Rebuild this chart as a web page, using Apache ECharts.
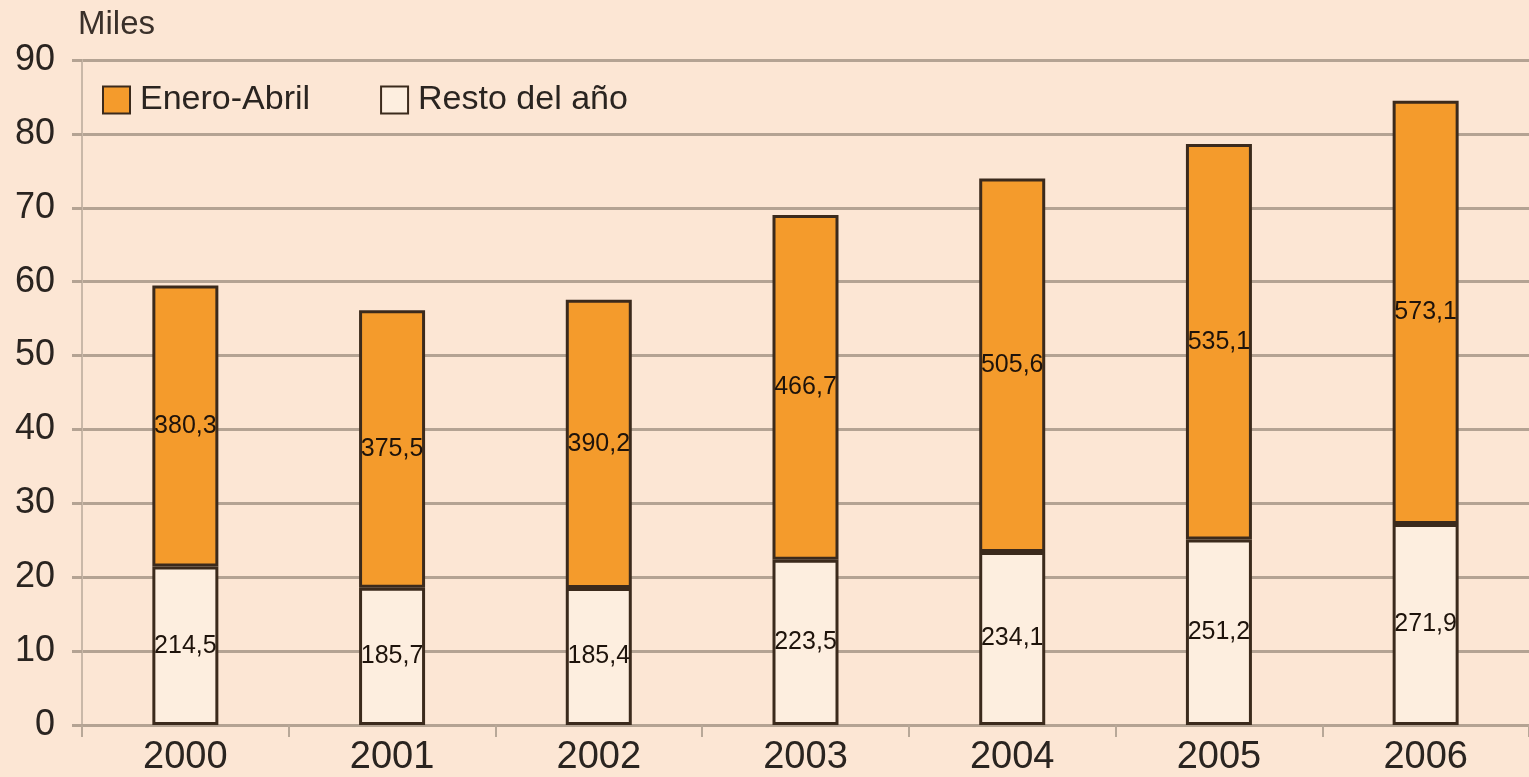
<!DOCTYPE html>
<html>
<head>
<meta charset="utf-8">
<script src="https://cdn.jsdelivr.net/npm/echarts@6/dist/echarts.min.js"></script>
<style>
html,body{margin:0;padding:0;background:#FCE6D4;}
#c{width:1529px;height:777px;}
</style>
</head>
<body>
<div id="c"></div>
<script>
// Data (labels as printed; bar heights in thousands = value / 10)
var years = ['2000', '2001', '2002', '2003', '2004', '2005', '2006'];
var restoAnio = [214.5, 185.7, 185.4, 223.5, 234.1, 251.2, 271.9];
var eneroAbril = [380.3, 375.5, 390.2, 466.7, 505.6, 535.1, 573.1];
var yTicks = [0, 10, 20, 30, 40, 50, 60, 70, 80, 90];

function fmt(v) { return v.toFixed(1).replace('.', ','); }
function toMiles(arr) { return arr.map(function (v) { return v / 10; }); }

var chart = echarts.init(document.getElementById('c'));
var labelStyle = {
  show: true,
  position: 'inside',
  fontFamily: 'Liberation Sans',
  fontSize: 25,
  color: '#1e130b'
};
chart.setOption({
  backgroundColor: '#FCE6D4',
  animation: false,
  title: {
    text: 'Miles',
    left: 78, top: 8, padding: 0,
    textStyle: { fontFamily: 'Liberation Sans', fontSize: 33, fontWeight: 'normal', color: '#3a302a' }
  },
  legend: {
    data: ['Enero-Abril', 'Resto del año'],
    left: 102, top: 83, padding: 0,
    itemWidth: 27, itemHeight: 27, itemGap: 70,
    icon: 'rect',
    textStyle: { fontFamily: 'Liberation Sans', fontSize: 34, color: '#2a2420', padding: [0, 0, 0, 5] }
  },
  grid: { left: 82, right: 0, top: 60, bottom: 51 },
  xAxis: {
    type: 'category',
    data: years,
    axisLine: { lineStyle: { color: '#B4A393', width: 3 } },
    axisTick: { show: true, length: 12, lineStyle: { color: '#B8A898', width: 2 } },
    axisLabel: { margin: 14, fontFamily: 'Liberation Sans', fontSize: 38, color: '#2a2420' }
  },
  yAxis: {
    type: 'value',
    min: yTicks[0], max: yTicks[yTicks.length - 1], interval: 10,
    axisLine: { show: true, lineStyle: { color: '#C9B8A8', width: 2 } },
    axisTick: { show: true, length: 10, lineStyle: { color: '#B4A393', width: 3 } },
    axisLabel: { margin: 27, fontFamily: 'Liberation Sans', fontSize: 36, color: '#2a2420' },
    splitLine: { lineStyle: { color: '#B4A393', width: 3 } }
  },
  series: [
    {
      name: 'Resto del año',
      type: 'bar',
      stack: 'total',
      barWidth: 66,
      data: toMiles(restoAnio),
      itemStyle: { color: '#FDEEDF', borderColor: '#3B2A1C', borderWidth: 3 },
      label: Object.assign({}, labelStyle, { formatter: function (p) { return fmt(restoAnio[p.dataIndex]); } })
    },
    {
      name: 'Enero-Abril',
      type: 'bar',
      stack: 'total',
      barWidth: 66,
      data: toMiles(eneroAbril),
      itemStyle: { color: '#F49B2C', borderColor: '#3B2A1C', borderWidth: 3 },
      label: Object.assign({}, labelStyle, { formatter: function (p) { return fmt(eneroAbril[p.dataIndex]); } })
    }
  ]
});
</script>
</body>
</html>
